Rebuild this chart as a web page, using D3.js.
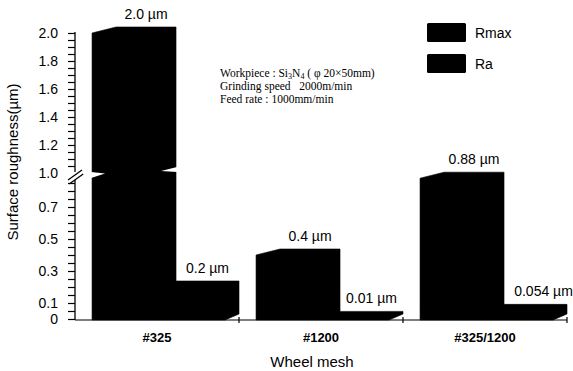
<!DOCTYPE html>
<html>
<head>
<meta charset="utf-8">
<script src="https://cdn.jsdelivr.net/npm/d3@7/dist/d3.min.js"></script>
<style>
  html, body { margin: 0; padding: 0; background: #fff; }
  svg { display: block; }
  .sans { font-family: "Liberation Sans", Arial, Helvetica, sans-serif; }
  .serif { font-family: "Liberation Serif", "Times New Roman", serif; }
</style>
</head>
<body>
<svg id="chart" width="573" height="371"></svg>
<script>
// Surface roughness per wheel mesh (broken y axis: 0–0.9 below the break, 1.0–2.0 above)
const categories = ["#325", "#1200", "#325/1200"];
const rmaxValues = [2.0, 0.4, 0.88];
const raValues = [0.2, 0.01, 0.054];
const rmaxLabels = ["2.0 \u00b5m", "0.4 \u00b5m", "0.88 \u00b5m"];
const raLabels = ["0.2 \u00b5m", "0.01 \u00b5m", "0.054 \u00b5m"];
const seriesNames = ["Rmax", "Ra"];
const lowerTickValues = [0, 0.1, 0.3, 0.5, 0.7];
const lowerTickLabels = ["0", "0.1", "0.3", "0.5", "0.7"];
const upperTickValues = [1.0, 1.2, 1.4, 1.6, 1.8, 2.0];
const upperTickLabels = ["1.0", "1.2", "1.4", "1.6", "1.8", "2.0"];

const svg = d3.select("#chart");
const axisX = 75, baseY = 320, topY = 32;

// Piecewise scale: lower segment 0–0.9, a short break, upper segment 1.0–2.0
const y = d3.scaleLinear()
  .domain([0, 0.9, 1.0, 2.0])
  .range([319, 175, 173, 33]);

const x = d3.scaleBand().domain(categories).range([axisX, 567]).padding(0);
const bw = x.bandwidth();
const rmaxOffset = bw * 0.104, rmaxWidth = bw * 0.512;
const depth = 6, bevel = 24;

// ---- bars ----
const bars = svg.append("g");
categories.forEach((c, i) => {
  const gx = x(c);
  const r0 = gx + rmaxOffset, r1 = r0 + rmaxWidth;
  const ry = y(rmaxValues[i]);
  const a1 = gx + bw;
  const ay = y(raValues[i]) - depth;
  const cut = Math.min(6, baseY - ay - 1);
  // Rmax (front-left corner at the value, bevelled top receding by `depth`)
  // joined with the Ra block on its right, whose bottom-right corner is clipped
  bars.append("path")
    .attr("d", `M${r0},${baseY} L${r0},${ry} L${r0 + bevel},${ry - depth} L${r1},${ry - depth}`
      + ` L${r1},${ay} L${a1},${ay} L${a1},${baseY - cut} L${a1 - 14},${baseY} Z`)
    .attr("fill", "#000").attr("stroke", "#000").attr("stroke-width", 0.6)
    .attr("stroke-linejoin", "miter");

  // value labels
  bars.append("text").attr("class", "sans")
    .attr("x", (r0 + bevel + r1) / 2).attr("y", ry - depth - 8)
    .attr("text-anchor", "middle").attr("font-size", 14)
    .text(rmaxLabels[i]);
  bars.append("text").attr("class", "sans")
    .attr("x", (r1 + a1) / 2 + (i === 2 ? 8 : 0)).attr("y", ay - 8)
    .attr("text-anchor", "middle").attr("font-size", 14)
    .text(raLabels[i]);

  // break notches across the bar that spans the gap
  if (rmaxValues[i] > 1.0) {
    bars.append("path")
      .attr("d", `M${r0 - 1},${y(1.0) - 1} L${r0 + 13},${y(1.0) + 0.5} L${r0 - 1},${y(1.0) + 5} Z`)
      .attr("fill", "#fff");
    bars.append("path")
      .attr("d", `M${r1 + 1},${y(1.0) - 6} L${r1 - 15},${y(1.0) - 2} L${r1 + 1},${y(1.0) - 1} Z`)
      .attr("fill", "#fff");
  }
});

// ---- y axis ----
const minorLower = d3.range(0, 0.851, 0.05);
const minorUpper = d3.range(1.05, 2.001, 0.05);
const ticksG = svg.append("g").attr("transform", `translate(${axisX},0)`);
ticksG.call(d3.axisLeft(y).tickValues(minorLower.concat(minorUpper)).tickSize(7).tickFormat(""))
  .call(g => g.select(".domain").remove())
  .call(g => g.selectAll("line").attr("stroke", "#000").attr("stroke-width", 1.2));

const labelsG = svg.append("g").attr("transform", `translate(${axisX},0)`);
const allTickValues = lowerTickValues.concat(upperTickValues);
const allTickLabels = lowerTickLabels.concat(upperTickLabels);
labelsG.call(d3.axisLeft(y).tickValues(allTickValues).tickSize(0).tickPadding(17)
    .tickFormat((d, i) => allTickLabels[i]))
  .call(g => g.select(".domain").remove())
  .call(g => g.selectAll("text").attr("class", "sans").attr("font-size", 14).attr("fill", "#000"));

// axis line with a break gap
svg.append("line").attr("x1", axisX).attr("x2", axisX).attr("y1", topY).attr("y2", 172)
  .attr("stroke", "#000").attr("stroke-width", 1.3);
svg.append("line").attr("x1", axisX).attr("x2", axisX).attr("y1", 180).attr("y2", baseY)
  .attr("stroke", "#000").attr("stroke-width", 1.3);
[0, 4].forEach(d => {
  svg.append("line")
    .attr("x1", 68 + d * 0.3).attr("y1", 180 + d)
    .attr("x2", 82 + d * 0.3).attr("y2", 170 + d)
    .attr("stroke", "#000").attr("stroke-width", 1.3);
});

// ---- x axis ----
svg.append("line").attr("x1", axisX).attr("x2", 567).attr("y1", baseY).attr("y2", baseY)
  .attr("stroke", "#000").attr("stroke-width", 1.2);
const xAxisG = svg.append("g").attr("transform", `translate(0,${baseY})`);
categories.forEach(c => {
  xAxisG.append("line").attr("x1", x(c) + bw).attr("x2", x(c) + bw)
    .attr("y1", -3).attr("y2", 3).attr("stroke", "#000").attr("stroke-width", 1.2);
  xAxisG.append("text").attr("class", "sans")
    .attr("x", x(c) + bw / 2).attr("y", 22)
    .attr("text-anchor", "middle").attr("font-size", 13).attr("font-weight", "bold")
    .text(c);
});

// ---- titles ----
svg.append("text").attr("class", "sans")
  .attr("transform", "translate(18,162) rotate(-90)")
  .attr("text-anchor", "middle").attr("font-size", 15)
  .text("Surface roughness(\u00b5m)");
svg.append("text").attr("class", "sans")
  .attr("x", 312).attr("y", 367)
  .attr("text-anchor", "middle").attr("font-size", 15)
  .text("Wheel mesh");

// ---- test conditions ----
const note = svg.append("g").attr("class", "serif").attr("font-size", 11.5);
const l1 = note.append("text").attr("x", 220).attr("y", 77);
l1.append("tspan").text("Workpiece : Si");
l1.append("tspan").attr("font-size", 8).attr("dy", 2).text("3");
l1.append("tspan").attr("dy", -2).text("N");
l1.append("tspan").attr("font-size", 8).attr("dy", 2).text("4");
l1.append("tspan").attr("dy", -2).text(" ( \u03c6 20\u00d750mm)");
note.append("text").attr("x", 220).attr("y", 90).attr("xml:space", "preserve")
  .text("Grinding speed   2000m/min");
note.append("text").attr("x", 220).attr("y", 103).text("Feed rate : 1000mm/min");

// ---- legend ----
const legend = svg.append("g");
seriesNames.forEach((s, i) => {
  legend.append("rect").attr("x", 427).attr("y", 23 + i * 31)
    .attr("width", 39).attr("height", 19).attr("rx", 1.5).attr("fill", "#000");
  legend.append("text").attr("class", "sans")
    .attr("x", 475).attr("y", 38 + i * 31).attr("font-size", 14)
    .text(s);
});
</script>
</body>
</html>
